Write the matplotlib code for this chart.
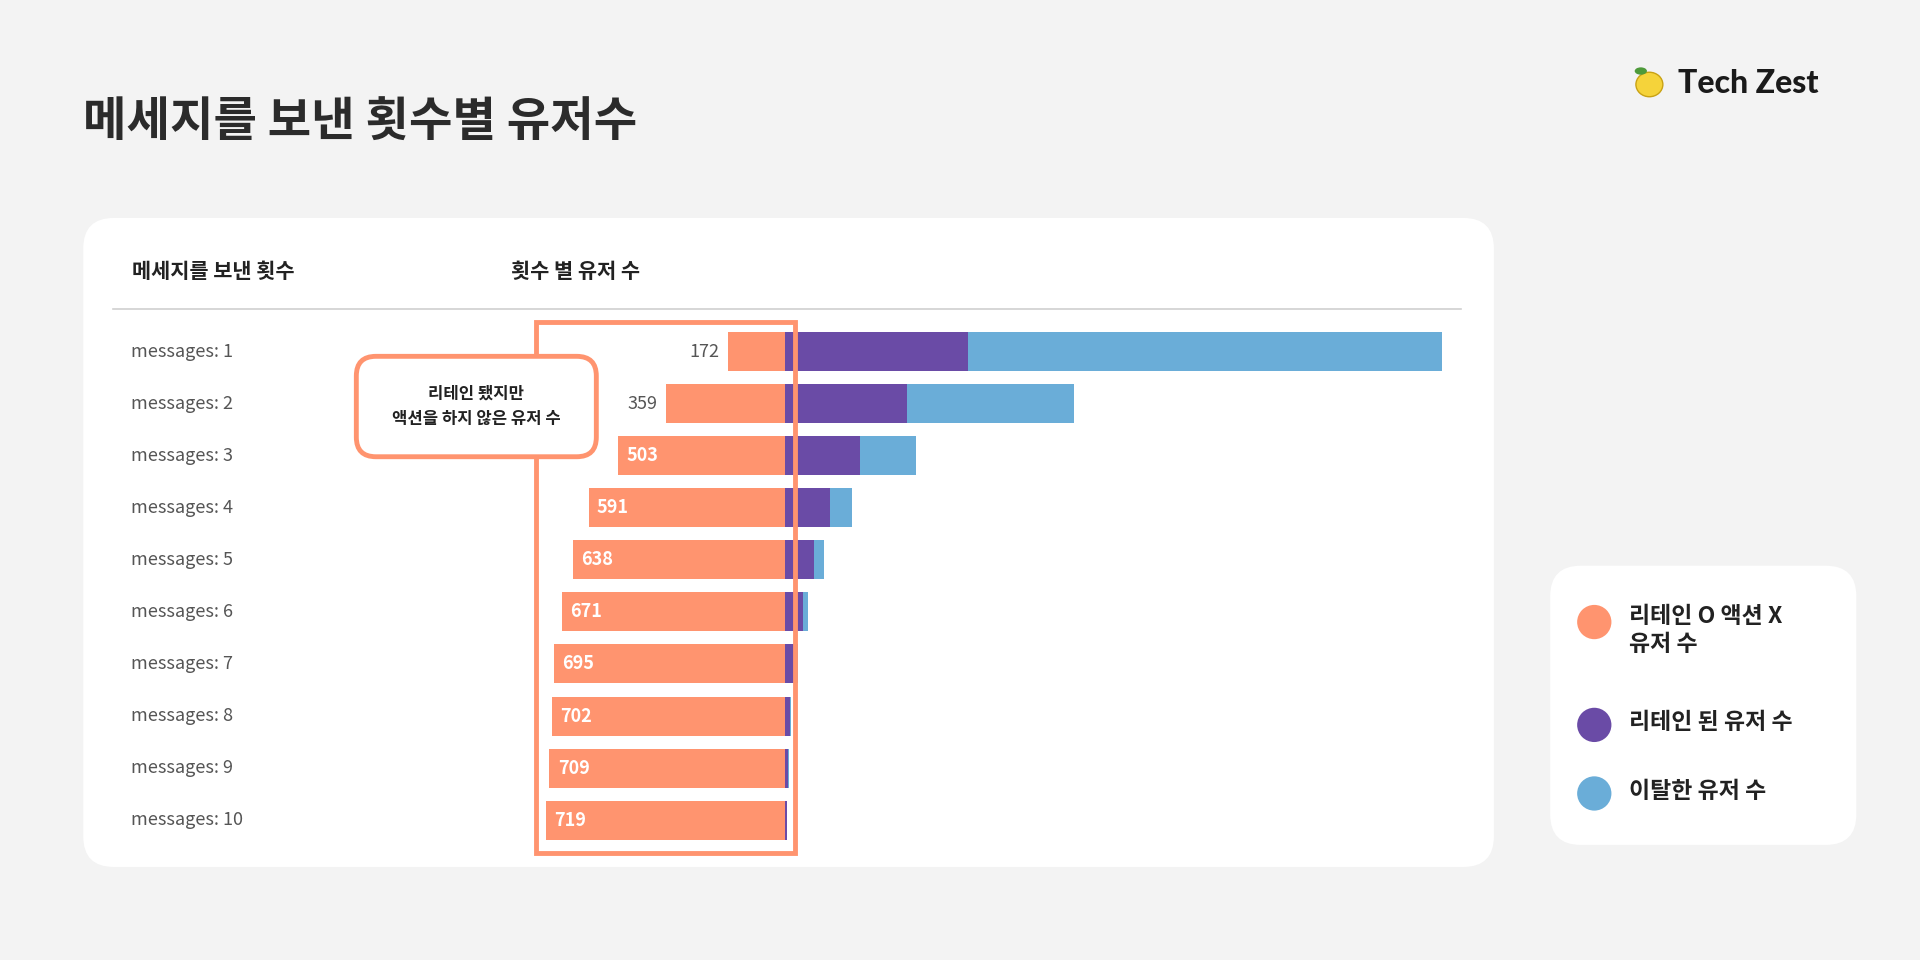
import matplotlib
matplotlib.use("Agg")
import matplotlib.pyplot as plt
from matplotlib.patches import FancyBboxPatch, Rectangle, Ellipse

plt.rcParams['font.family'] = ['Noto Sans CJK KR', 'DejaVu Sans']

categories = [f"messages: {i}" for i in range(1, 11)]
retained_no_action = [172, 359, 503, 591, 638, 671, 695, 702, 709, 719]
retained = [553, 369, 225, 137, 89, 55, 33, 15, 11, 7]
churned = [1428, 502, 170, 66, 30, 15, 7, 4, 2, 1]

ORANGE = "#FF946F"
PURPLE = "#6A4BA6"
BLUE = "#6AADD8"

W, H = 1568, 784
fig = plt.figure(figsize=(19.2, 9.6), dpi=100, facecolor="#f3f3f3")

def fx(x): return x / W
def fy(y): return 1 - y / H

def rbox(x0, y0, x1, y1, r, fc, ec="none", lw=0, z=0):
    p = FancyBboxPatch((fx(x0), fy(y1)), fx(x1) - fx(x0), fy(y0) - fy(y1),
                       boxstyle=f"round,pad=0,rounding_size={r/W}",
                       transform=fig.transFigure, fc=fc, ec=ec, lw=lw, zorder=z,
                       mutation_aspect=W / H)
    fig.patches.append(p)

rbox(68, 178, 1220, 708, 25, "white", z=0)
rbox(1266, 462, 1516, 690, 25, "white", z=0)

fig.text(fx(68), fy(100), "메세지를 보낸 횟수별 유저수", fontsize=34, fontweight="bold",
         color="#2b2b2b", va="center")
fig.text(fx(1370), fy(68), "Tech Zest", fontsize=23, fontweight="black",
         color="#1a1a1a", va="center", family=["Lato", "DejaVu Sans"])
fig.patches.append(Ellipse((fx(1347), fy(69)), 22 / W, 20 / H, transform=fig.transFigure,
                           fc="#F5D33A", ec="#C9A214", lw=1))
fig.patches.append(Ellipse((fx(1340), fy(58)), 10 / W, 6 / H, transform=fig.transFigure,
                           fc="#4E9A3A", ec="none"))

fig.text(fx(108), fy(222), "메세지를 보낸 횟수", fontsize=15, fontweight="bold",
         color="#222", va="center")
fig.text(fx(417), fy(222), "횟수 별 유저 수", fontsize=15, fontweight="bold",
         color="#222", va="center")
fig.add_artist(plt.Line2D([fx(92), fx(1193)], [fy(252), fy(252)],
                          transform=fig.transFigure, color="#d0d0d0", lw=1.2))

ax = fig.add_axes([fx(446), fy(691), fx(1178) - fx(446), fy(266) - fy(691)])
ax.set_zorder(2)
ax.set_facecolor("none")
y = list(range(len(categories)))
neg = [-v for v in retained_no_action]
ax.barh(y, neg, height=0.75, color=ORANGE, left=0)
ax.barh(y, retained, height=0.75, color=PURPLE, left=0)
ax.barh(y, churned, height=0.75, color=BLUE, left=retained)
ax.set_xlim(-719, 1981)
ax.set_ylim(9.5, -0.5)
ax.axis("off")
for i, v in enumerate(retained_no_action):
    if v < 400:
        ax.text(-v - 25, i, str(v), ha="right", va="center", fontsize=13, color="#555")
    else:
        ax.text(-v + 25, i, str(v), ha="left", va="center", fontsize=13, color="white",
                fontweight="bold")
for i, c in enumerate(categories):
    ax.text(-719 - 1250, i, c, ha="left", va="center", fontsize=13, color="#555",
            clip_on=False)

fig.patches.append(Rectangle((fx(438), fy(697)), fx(649) - fx(438), fy(263) - fy(697),
                             transform=fig.transFigure, fill=False, ec=ORANGE, lw=3.5,
                             zorder=5))
rbox(291, 291, 487, 373, 16, "white", ORANGE, 3.5, z=6)
fig.text(fx(389), fy(332), "리테인 됐지만\n액션을 하지 않은 유저 수", fontsize=12,
         fontweight="bold", color="#222", ha="center", va="center", zorder=7,
         linespacing=1.5)

for yy, col, lab in [(508, ORANGE, "리테인 O 액션 X\n유저 수"), (592, PURPLE, "리테인 된 유저 수"),
                     (648, BLUE, "이탈한 유저 수")]:
    fig.patches.append(Ellipse((fx(1302), fy(yy)), 28 / W, 28 / H, transform=fig.transFigure,
                               fc=col, ec="none", zorder=1))
    multi = "\n" in lab
    fig.text(fx(1330), fy(yy - 14) if multi else fy(yy - 2), lab, fontsize=16.5,
             fontweight="bold", color="#222", va="top" if multi else "center",
             linespacing=1.3)

fig.savefig("out.png", dpi=100, facecolor=fig.get_facecolor())
